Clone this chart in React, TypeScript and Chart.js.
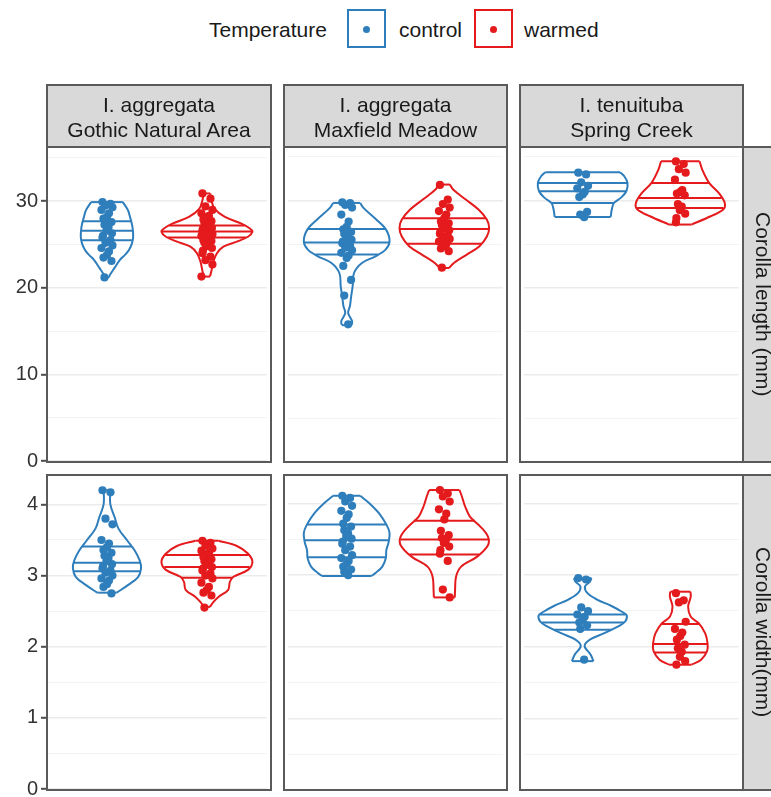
import React, { useEffect, useRef } from "react";
import { Chart, registerables } from "chart.js";

Chart.register(...registerables);

const FONT = "'Liberation Sans', Arial, Helvetica, sans-serif";
const BLUE = "#2F7EBC";
const RED = "#E41A1C";
const INK = "#1A1A1A";
const FRAME = "#5A5A5A";
const STRIP_FILL = "#D9D9D9";
const TEXT_SIZE = 21;

// ---- labels ----
const treatments = ["control", "warmed"];
const facetTitles = [
  ["I. aggregata", "Gothic Natural Area"],
  ["I. aggregata", "Maxfield Meadow"],
  ["I. tenuituba", "Spring Creek"],
];
const traitLabels = ["Corolla length (mm)", "Corolla width(mm)"];
const legendTitle = "Temperature";

// ---- axis ranges (major / minor grid steps) ----
const lengthAxis = { max: 36.15, major: 10, minor: 5 };
const widthAxis = { max: 4.4, major: 1, minor: 0.5 };

// ---- corolla length (mm), one value per flower ----
const lenGothicControl = [29.9, 29.7, 29.5, 29.3, 29.0, 28.6, 28.2, 28.0, 27.6, 27.3, 27.0, 26.6, 26.3, 26.0, 25.8, 25.5, 25.2, 24.9, 24.6, 24.2, 23.8, 23.5, 23.1, 21.2];
const lenGothicWarmed = [30.9, 30.3, 29.4, 29.0, 28.6, 28.3, 28.1, 27.9, 27.7, 27.5, 27.3, 27.1, 26.9, 26.8, 26.6, 26.5, 26.3, 26.2, 26.0, 25.9, 25.7, 25.5, 25.4, 25.2, 25.0, 24.8, 24.6, 24.3, 24.0, 23.6, 23.2, 22.7, 21.3];
const lenMaxfieldControl = [29.8, 29.7, 29.5, 29.2, 28.4, 27.6, 27.0, 26.7, 26.4, 26.2, 25.9, 25.7, 25.5, 25.3, 25.1, 24.8, 24.6, 24.3, 24.0, 23.7, 23.4, 22.5, 20.9, 19.1, 15.8];
const lenMaxfieldWarmed = [31.8, 30.1, 29.6, 29.2, 28.8, 28.4, 28.0, 27.6, 27.4, 27.2, 27.0, 26.8, 26.6, 26.4, 26.2, 26.0, 25.8, 25.6, 25.3, 25.0, 24.8, 24.5, 24.2, 22.3];
const lenSpringControl = [33.2, 33.0, 32.1, 31.7, 31.4, 31.0, 30.7, 30.4, 28.7, 28.4, 28.1];
const lenSpringWarmed = [34.5, 34.2, 33.6, 33.2, 32.4, 31.2, 31.0, 30.8, 30.6, 29.6, 29.3, 28.9, 28.5, 28.0, 27.5];

// ---- corolla width (mm) ----
const widGothicControl = [4.2, 4.17, 3.8, 3.72, 3.5, 3.45, 3.4, 3.36, 3.32, 3.28, 3.24, 3.2, 3.16, 3.13, 3.1, 3.07, 3.04, 3.0, 2.96, 2.93, 2.88, 2.84, 2.75];
const widGothicWarmed = [3.49, 3.46, 3.42, 3.38, 3.35, 3.32, 3.29, 3.26, 3.23, 3.2, 3.18, 3.15, 3.12, 3.1, 3.07, 3.03, 3.0, 2.96, 2.9, 2.84, 2.8, 2.76, 2.72, 2.55];
const widMaxfieldControl = [4.11, 4.08, 4.03, 3.97, 3.9, 3.85, 3.8, 3.72, 3.68, 3.63, 3.58, 3.55, 3.51, 3.47, 3.44, 3.4, 3.35, 3.28, 3.24, 3.2, 3.16, 3.12, 3.08, 3.05, 3.0];
const widMaxfieldWarmed = [4.19, 4.14, 4.1, 4.03, 3.92, 3.86, 3.78, 3.62, 3.56, 3.52, 3.49, 3.45, 3.4, 3.35, 3.3, 3.2, 2.8, 2.69];
const widSpringControl = [2.96, 2.94, 2.55, 2.5, 2.45, 2.42, 2.38, 2.34, 2.3, 2.25, 1.82];
const widSpringWarmed = [2.75, 2.65, 2.62, 2.35, 2.25, 2.2, 2.15, 2.1, 2.03, 1.98, 1.93, 1.86, 1.8, 1.75];

// ---- violin density profiles: [value, half width in category units], bottom to top ----
const lenGothicControlDensity = [[21.2, 0.02], [21.5, 0.03], [22.27, 0.074], [23.23, 0.13], [23.8, 0.18], [24.37, 0.22], [25.14, 0.25], [25.9, 0.262], [27.05, 0.255], [28.2, 0.23], [28.97, 0.21], [29.9, 0.159]];
const lenGothicWarmedDensity = [[21.3, 0.03], [21.96, 0.045], [23.04, 0.065], [23.99, 0.1], [24.75, 0.165], [25.33, 0.3], [25.9, 0.41], [26.48, 0.455], [26.86, 0.43], [27.44, 0.34], [28.2, 0.18], [29.16, 0.075], [30.12, 0.045], [30.9, 0.033]];
const lenMaxfieldControlDensity = [[15.7, 0.049], [16.15, 0.056], [17.1, 0.015], [17.87, 0.033], [19.01, 0.046], [20.16, 0.061], [21.69, 0.075], [22.84, 0.156], [23.61, 0.295], [24.37, 0.398], [25.33, 0.439], [26.67, 0.403], [27.82, 0.303], [29.16, 0.172], [29.73, 0.139]];
const lenMaxfieldWarmedDensity = [[22.27, 0.05], [22.84, 0.098], [23.8, 0.23], [24.75, 0.36], [25.9, 0.437], [26.86, 0.459], [27.82, 0.435], [28.97, 0.35], [30.12, 0.22], [31.27, 0.09], [31.84, 0.057]];
const lenSpringControlDensity = [[28.13, 0.287], [28.97, 0.298], [29.73, 0.32], [30.31, 0.39], [31.07, 0.447], [32.03, 0.459], [32.79, 0.426], [33.25, 0.382]];
const lenSpringWarmedDensity = [[27.25, 0.115], [28.2, 0.311], [28.97, 0.439], [29.73, 0.455], [30.88, 0.393], [32.03, 0.295], [33.56, 0.224], [34.52, 0.197]];

const widGothicControlDensity = [[2.76, 0.098], [2.87, 0.213], [2.98, 0.311], [3.1, 0.341], [3.21, 0.328], [3.35, 0.279], [3.49, 0.205], [3.66, 0.115], [3.82, 0.077], [4.005, 0.033], [4.2, 0.033]];
const widGothicWarmedDensity = [[2.56, 0.03], [2.63, 0.066], [2.7, 0.115], [2.8, 0.213], [2.91, 0.229], [2.98, 0.262], [3.08, 0.41], [3.19, 0.455], [3.31, 0.41], [3.42, 0.295], [3.49, 0.115]];
const widMaxfieldControlDensity = [[2.99, 0.254], [3.03, 0.295], [3.12, 0.365], [3.24, 0.401], [3.35, 0.406], [3.47, 0.431], [3.59, 0.439], [3.7, 0.41], [3.87, 0.328], [4.01, 0.229], [4.11, 0.139]];
const widMaxfieldWarmedDensity = [[2.69, 0.107], [2.79, 0.11], [2.98, 0.12], [3.12, 0.172], [3.26, 0.336], [3.42, 0.447], [3.54, 0.447], [3.68, 0.369], [3.82, 0.262], [3.96, 0.213], [4.1, 0.18], [4.19, 0.156]];
const widSpringControlDensity = [[1.8, 0.11], [1.89, 0.082], [2.01, 0.02], [2.1, 0.074], [2.19, 0.221], [2.29, 0.369], [2.35, 0.434], [2.44, 0.451], [2.49, 0.401], [2.57, 0.295], [2.66, 0.147], [2.75, 0.049], [2.84, 0.023], [2.91, 0.074], [2.96, 0.09]];
const widSpringWarmedDensity = [[1.75, 0.115], [1.82, 0.213], [1.94, 0.274], [2.05, 0.279], [2.19, 0.254], [2.33, 0.188], [2.42, 0.107], [2.56, 0.08], [2.7, 0.107], [2.77, 0.103]];

// ---- violin quartile lines (25%, 50%, 75%) ----
const lenGothicControlQuartiles = [25.5, 26.6, 27.7];
const lenGothicWarmedQuartiles = [25.8, 26.5, 27.2];
const lenMaxfieldControlQuartiles = [23.8, 25.2, 26.75];
const lenMaxfieldWarmedQuartiles = [25.06, 26.75, 27.97];
const lenSpringControlQuartiles = [29.73, 31.07, 32.03];
const lenSpringWarmedQuartiles = [29.16, 30.31, 32.03];
const widGothicControlQuartiles = [3.06, 3.18, 3.41];
const widGothicWarmedQuartiles = [2.97, 3.12, 3.29];
const widMaxfieldControlQuartiles = [3.25, 3.49, 3.71];
const widMaxfieldWarmedQuartiles = [3.29, 3.5, 3.76];
const widSpringControlQuartiles = [2.24, 2.34, 2.45];
const widSpringWarmedQuartiles = [1.92, 2.04, 2.32];

// horizontal jitter offsets (category units), reused cyclically
const JITTER = [-0.045, 0.035, -0.015, 0.055, -0.055, 0.02, 0.0, -0.035, 0.045, -0.025, 0.015, -0.005, 0.05, -0.04];

type Group = { values: number[]; density: number[][]; quartiles: number[] };
type Pair = [Group, Group];

const lengthPanels: Pair[] = [
  [
    { values: lenGothicControl, density: lenGothicControlDensity, quartiles: lenGothicControlQuartiles },
    { values: lenGothicWarmed, density: lenGothicWarmedDensity, quartiles: lenGothicWarmedQuartiles },
  ],
  [
    { values: lenMaxfieldControl, density: lenMaxfieldControlDensity, quartiles: lenMaxfieldControlQuartiles },
    { values: lenMaxfieldWarmed, density: lenMaxfieldWarmedDensity, quartiles: lenMaxfieldWarmedQuartiles },
  ],
  [
    { values: lenSpringControl, density: lenSpringControlDensity, quartiles: lenSpringControlQuartiles },
    { values: lenSpringWarmed, density: lenSpringWarmedDensity, quartiles: lenSpringWarmedQuartiles },
  ],
];
const widthPanels: Pair[] = [
  [
    { values: widGothicControl, density: widGothicControlDensity, quartiles: widGothicControlQuartiles },
    { values: widGothicWarmed, density: widGothicWarmedDensity, quartiles: widGothicWarmedQuartiles },
  ],
  [
    { values: widMaxfieldControl, density: widMaxfieldControlDensity, quartiles: widMaxfieldControlQuartiles },
    { values: widMaxfieldWarmed, density: widMaxfieldWarmedDensity, quartiles: widMaxfieldWarmedQuartiles },
  ],
  [
    { values: widSpringControl, density: widSpringControlDensity, quartiles: widSpringControlQuartiles },
    { values: widSpringWarmed, density: widSpringWarmedDensity, quartiles: widSpringWarmedQuartiles },
  ],
];

// ---- page geometry ----
const COL_LEFT = [47, 284, 520];
const COL_W = [224, 223, 223];
const ROW_TOP = [147, 475];
const ROW_H = 315;
const STRIP_TOP = 85;
const AXIS_W = 47;
const PAD = 14;
const COLORS = [BLUE, RED];

function halfWidthAt(profile: number[][], v: number): number {
  for (let i = 1; i < profile.length; i++) {
    const [v0, w0] = profile[i - 1];
    const [v1, w1] = profile[i];
    if (v >= v0 && v <= v1) {
      const t = v1 === v0 ? 0 : (v - v0) / (v1 - v0);
      return w0 + t * (w1 - w0);
    }
  }
  return 0;
}

function lineSet(data: { x: number; y: number }[], color: string, tension: number) {
  return {
    data,
    showLine: true,
    pointRadius: 0,
    pointHoverRadius: 0,
    borderColor: color,
    borderWidth: 2,
    tension,
    fill: false,
    order: 1,
  };
}

function violinSets(g: Group, center: number, color: string) {
  const prof = g.density;
  const bottom = prof[0];
  const top = prof[prof.length - 1];
  const sets: any[] = [
    lineSet(prof.map(([v, w]) => ({ x: center - w, y: v })), color, 0.35),
    lineSet(prof.map(([v, w]) => ({ x: center + w, y: v })), color, 0.35),
    lineSet([{ x: center - bottom[1], y: bottom[0] }, { x: center + bottom[1], y: bottom[0] }], color, 0),
    lineSet([{ x: center - top[1], y: top[0] }, { x: center + top[1], y: top[0] }], color, 0),
  ];
  g.quartiles.forEach((q) => {
    const w = halfWidthAt(prof, q);
    sets.push(lineSet([{ x: center - w, y: q }, { x: center + w, y: q }], color, 0));
  });
  return sets;
}

function Panel({ row, col, pair, axis }: { row: number; col: number; pair: Pair; axis: typeof lengthAxis }) {
  const ref = useRef<HTMLCanvasElement>(null);
  const withAxis = col === 0;
  const left = withAxis ? 0 : COL_LEFT[col];
  const width = (withAxis ? AXIS_W : 0) + COL_W[col];
  const top = ROW_TOP[row] - PAD;
  const height = ROW_H + 2 * PAD;

  useEffect(() => {
    const isMajor = (v: number) => Math.abs(v / axis.major - Math.round(v / axis.major)) < 1e-6;
    const datasets: any[] = [];
    pair.forEach((g, i) => {
      const center = i + 1;
      datasets.push({
        label: treatments[i],
        data: g.values.map((v, k) => ({ x: center + JITTER[k % JITTER.length], y: v })),
        showLine: false,
        pointRadius: 4.1,
        pointHoverRadius: 4.1,
        pointBorderWidth: 0,
        pointBackgroundColor: COLORS[i],
        order: 0,
      });
      datasets.push(...violinSets(g, center, COLORS[i]));
    });

    const chart = new Chart(ref.current as HTMLCanvasElement, {
      type: "scatter",
      data: { datasets },
      options: {
        animation: false,
        responsive: false,
        devicePixelRatio: 1,
        events: [],
        layout: { padding: { top: PAD, bottom: PAD, left: 0, right: 0 } },
        plugins: { legend: { display: false }, tooltip: { enabled: false } },
        scales: {
          x: { type: "linear", min: 0.4, max: 2.6, display: false },
          y: {
            type: "linear",
            min: 0,
            max: axis.max,
            afterFit: (s: any) => {
              s.width = withAxis ? AXIS_W : 0;
            },
            border: { display: false },
            grid: {
              color: (c: any) => (c.tick && isMajor(c.tick.value) ? "#EBEBEB" : "#F3F3F3"),
              lineWidth: (c: any) => (c.tick && isMajor(c.tick.value) ? 1.6 : 1.1),
              drawTicks: withAxis,
              tickLength: withAxis ? 6 : 0,
              tickWidth: 2,
              tickColor: (c: any) => (c.tick && isMajor(c.tick.value) ? "#4D4D4D" : "rgba(0,0,0,0)"),
            },
            ticks: {
              display: withAxis,
              stepSize: axis.minor,
              autoSkip: false,
              includeBounds: false,
              padding: 3,
              color: "#333333",
              font: { family: FONT, size: 20 },
              callback: (v: any) => (isMajor(Number(v)) ? String(Math.round(Number(v))) : ""),
            },
          },
        },
      } as any,
    });
    return () => chart.destroy();
  }, []);

  return (
    <canvas
      ref={ref}
      width={width}
      height={height}
      style={{ position: "absolute", left, top, width, height }}
    />
  );
}

function Frame({ x0, y0, x1, y1, fill }: { x0: number; y0: number; x1: number; y1: number; fill?: string }) {
  return (
    <div
      style={{
        position: "absolute",
        left: x0 - 1,
        top: y0 - 1,
        width: x1 - x0 + 2,
        height: y1 - y0 + 2,
        boxSizing: "border-box",
        border: `2px solid ${FRAME}`,
        background: fill || "transparent",
      }}
    />
  );
}

function LegendKey({ left, color }: { left: number; color: string }) {
  return (
    <div
      style={{
        position: "absolute",
        left,
        top: 9,
        width: 39,
        height: 39,
        boxSizing: "border-box",
        border: `2px solid ${color}`,
        background: "#fff",
      }}
    >
      <div
        style={{
          position: "absolute",
          left: 14,
          top: 14.5,
          width: 7,
          height: 7,
          borderRadius: "50%",
          background: color,
        }}
      />
    </div>
  );
}

function Label({ left, top, text }: { left: number; top: number; text: string }) {
  return (
    <div
      style={{
        position: "absolute",
        left,
        top,
        fontSize: TEXT_SIZE,
        lineHeight: `${TEXT_SIZE}px`,
        whiteSpace: "nowrap",
        color: INK,
      }}
    >
      {text}
    </div>
  );
}

export default function App() {
  useEffect(() => {
    document.body.style.margin = "0";
  }, []);

  const rows = [
    { pairs: lengthPanels, axis: lengthAxis },
    { pairs: widthPanels, axis: widthAxis },
  ];

  return (
    <div
      style={{
        position: "absolute",
        left: 0,
        top: 0,
        width: 771,
        height: 797,
        overflow: "hidden",
        background: "#fff",
        fontFamily: FONT,
      }}
    >
      {/* legend */}
      <Label left={209} top={19} text={legendTitle} />
      <LegendKey left={347} color={BLUE} />
      <Label left={399} top={19} text={treatments[0]} />
      <LegendKey left={474} color={RED} />
      <Label left={524} top={19} text={treatments[1]} />

      {/* facet panels */}
      {rows.map((r, ri) =>
        r.pairs.map((pair, ci) => <Panel key={`${ri}-${ci}`} row={ri} col={ci} pair={pair} axis={r.axis} />)
      )}

      {/* panel frames */}
      {ROW_TOP.map((t, ri) =>
        COL_LEFT.map((l, ci) => <Frame key={`f${ri}${ci}`} x0={l} y0={t} x1={l + COL_W[ci]} y1={t + ROW_H} />)
      )}

      {/* column strips */}
      {facetTitles.map((lines, ci) => (
        <React.Fragment key={`s${ci}`}>
          <Frame x0={COL_LEFT[ci]} y0={STRIP_TOP} x1={COL_LEFT[ci] + COL_W[ci]} y1={ROW_TOP[0]} fill={STRIP_FILL} />
          <div
            style={{
              position: "absolute",
              left: COL_LEFT[ci],
              top: STRIP_TOP,
              width: COL_W[ci],
              height: ROW_TOP[0] - STRIP_TOP,
              display: "flex",
              flexDirection: "column",
              justifyContent: "center",
              alignItems: "center",
              fontSize: TEXT_SIZE,
              lineHeight: "25px",
              color: INK,
              paddingTop: 2,
              boxSizing: "border-box",
            }}
          >
            {lines.map((t) => (
              <div key={t} style={{ whiteSpace: "nowrap" }}>
                {t}
              </div>
            ))}
          </div>
        </React.Fragment>
      ))}

      {/* row strips */}
      {traitLabels.map((t, ri) => (
        <React.Fragment key={`r${ri}`}>
          <Frame x0={743} y0={ROW_TOP[ri]} x1={785} y1={ROW_TOP[ri] + ROW_H} fill={STRIP_FILL} />
          <div
            style={{
              position: "absolute",
              left: 743,
              top: ROW_TOP[ri],
              width: 40,
              height: ROW_H,
              display: "flex",
              justifyContent: "center",
              alignItems: "center",
              fontSize: TEXT_SIZE,
              color: INK,
            }}
          >
            <div style={{ writingMode: "vertical-rl", whiteSpace: "nowrap" }}>{t}</div>
          </div>
        </React.Fragment>
      ))}
    </div>
  );
}
